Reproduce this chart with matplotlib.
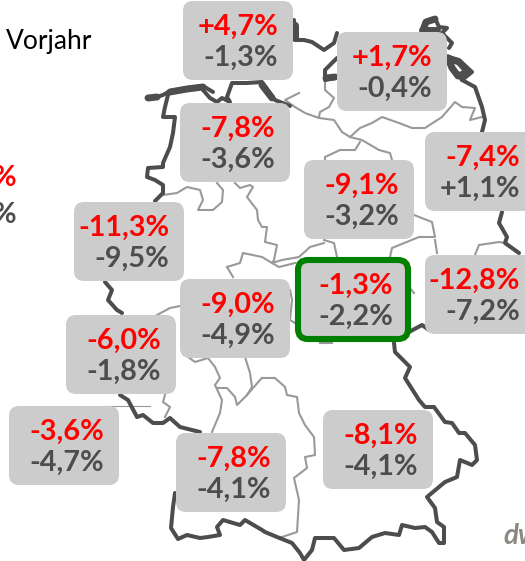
import matplotlib
matplotlib.use('Agg')
import matplotlib.pyplot as plt
from matplotlib.patches import FancyBboxPatch

plt.rcParams['font.family'] = ['Lato', 'DejaVu Sans']

RED = '#FF0000'
GREY = '#4D4D4D'

# werte pro gebiet
werte_rot = ['+4,7%', '+1,7%', '-7,8%', '-9,1%', '-7,4%', '-11,3%', '-9,0%',
             '-1,3%', '-12,8%', '-6,0%', '-3,6%', '-7,8%', '-8,1%']
werte_grau = ['-1,3%', '-0,4%', '-3,6%', '-3,2%', '+1,1%', '-9,5%', '-4,9%',
              '-2,2%', '-7,2%', '-1,8%', '-4,7%', '-4,1%', '-4,1%']
# linke obere ecke der kaesten in pixeln
kasten_x = [183, 337, 180, 304, 425, 74, 180, 298, 425, 66, 9, 176, 323]
kasten_y = [1, 32, 103, 160, 132, 202, 279, 260, 255, 315, 406, 433, 410]
markiert = 7

# aussengrenze, stueckweise (x, y in pixeln)
aussen = [
    [(148, 98), (157, 97), (163, 95), (170, 91), (187, 88), (203, 86), (208, 89), (213, 92)],
    [(168, 95), (165, 107), (163, 117), (175, 117), (173, 133), (170, 147), (163, 163), (163, 167),
     (148, 168), (147, 177), (155, 180), (163, 185), (163, 193), (155, 201)],
    [(203, 90), (210, 98), (217, 102), (222, 98), (230, 102), (227, 97), (232, 83), (247, 83), (262, 82),
     (275, 100), (290, 106)],
    [(294, 20), (295, 40), (304, 40), (312, 42), (324, 50), (334, 43), (337, 33)],
    [(337, 58), (325, 70), (325, 80), (335, 78)],
    [(422, 30), (425, 23), (435, 18), (439, 27), (447, 28), (442, 33), (452, 43), (449, 48)],
    [(447, 57), (459, 60), (472, 72), (462, 80), (475, 87), (482, 107), (485, 120), (482, 132)],
    [(447, 57), (455, 70), (462, 80)],
    [(502, 212), (499, 223), (507, 237), (505, 243), (519, 253)],
    [(409, 332), (422, 325), (429, 330)],
    [(394, 343), (395, 352), (410, 367), (405, 378), (419, 400), (425, 407), (434, 407), (445, 422),
     (452, 423), (459, 433), (465, 433), (475, 445), (477, 460), (472, 465), (460, 460), (457, 477),
     (445, 482), (427, 497), (435, 508), (437, 522), (444, 527), (444, 543), (439, 543), (432, 532),
     (425, 527), (415, 528), (402, 525), (399, 535), (385, 533), (372, 537), (359, 548), (344, 550),
     (334, 538), (315, 538), (312, 550), (304, 560), (300, 553), (292, 543), (277, 537), (265, 532),
     (262, 530), (245, 520), (240, 525), (223, 520), (217, 527), (220, 535), (208, 537), (200, 538),
     (187, 535), (178, 539), (171, 528), (173, 507), (175, 493)],
    [(120, 395), (128, 400), (137, 417), (143, 415), (153, 423), (163, 423), (170, 418), (180, 427),
     (200, 432)],
    [(105, 282), (112, 290), (108, 300), (117, 310), (122, 313)],
]

# dicke stellen an der kueste
kueste_dick = [
    [(148, 98), (157, 97)],
    [(170, 92), (187, 89), (203, 87)],
    [(423, 30), (426, 22), (435, 19)],
    [(422, 30), (437, 30)],
    [(448, 58), (459, 62), (468, 72), (458, 76), (452, 68), (448, 58)],
    [(326, 78), (335, 77)],
    [(295, 25), (295, 38)],
    [(262, 85), (272, 98)],
]

# laendergrenzen
innen = [
    [(163, 195), (177, 193), (187, 187), (200, 190), (203, 200), (198, 210), (213, 210), (222, 202),
     (223, 190), (217, 183)],
    [(235, 183), (240, 188), (250, 185), (253, 187), (247, 197), (257, 210), (258, 220), (262, 227),
     (267, 227), (265, 242), (277, 245), (274, 260), (272, 263), (279, 267), (295, 263)],
    [(227, 267), (240, 263), (243, 253), (262, 257), (272, 263)],
    [(233, 277), (227, 267)],
    [(325, 82), (325, 90), (334, 98), (329, 107), (320, 112), (319, 117)],
    [(299, 93), (285, 100), (295, 107), (305, 113), (319, 118), (334, 120), (342, 132), (350, 137),
     (362, 140), (379, 150), (390, 153), (392, 160)],
    [(360, 142), (355, 150), (340, 150), (325, 157), (325, 160)],
    [(350, 137), (360, 128), (372, 123), (382, 117), (399, 123), (412, 128), (425, 128), (442, 117),
     (455, 102), (462, 107), (475, 108), (470, 120), (482, 117)],
    [(414, 215), (432, 222), (435, 237), (419, 237), (392, 248), (390, 257)],
    [(435, 240), (437, 253)],
    [(475, 255), (479, 245), (499, 242), (505, 243)],
    [(324, 240), (334, 243), (337, 257)],
    [(324, 243), (310, 247), (299, 257), (282, 260), (272, 263)],
    [(157, 315), (170, 308), (180, 306)],
    [(188, 357), (195, 362), (208, 358), (215, 367), (220, 378), (215, 385), (222, 400), (220, 413),
     (212, 432)],
    [(165, 395), (163, 402), (170, 407), (165, 417)],
    [(245, 357), (250, 373), (252, 387), (247, 395), (237, 405), (235, 397), (227, 388), (218, 388)],
    [(262, 378), (275, 378), (285, 387), (287, 395), (297, 397), (299, 413), (305, 425), (314, 437),
     (315, 455), (305, 457), (307, 468), (294, 478), (299, 500), (297, 532), (282, 537), (275, 537)],
    [(247, 395), (260, 380), (262, 378)],
    [(290, 290), (292, 300), (290, 320), (295, 323)],
    [(320, 343), (332, 343)],
    [(409, 287), (414, 293)],
]

fig = plt.figure(figsize=(5.25, 5.61), dpi=100)
ax = fig.add_axes([0, 0, 1, 1])
ax.set_xlim(0, 525)
ax.set_ylim(561, 0)
ax.axis('off')

for stueck in aussen:
    ax.plot([p[0] for p in stueck], [p[1] for p in stueck], color=GREY, lw=2.9, zorder=2,
            solid_joinstyle='round', solid_capstyle='round')
for stueck in kueste_dick:
    ax.plot([p[0] for p in stueck], [p[1] for p in stueck], color=GREY, lw=5, zorder=2,
            solid_joinstyle='round', solid_capstyle='round')
for stueck in innen:
    ax.plot([p[0] for p in stueck], [p[1] for p in stueck], color='#999999', lw=1.5, zorder=1)
ax.plot([103, 150], [406, 406], color='#999999', lw=0.8, zorder=1)

for i in range(len(werte_rot)):
    x, y = kasten_x[i], kasten_y[i]
    b, h = 110, 79
    if i == markiert:
        ax.add_patch(FancyBboxPatch((x + 10, y + 10), b - 20, h - 20, boxstyle='round,pad=10,rounding_size=10',
                                    fc='#CCCCCC', ec='#008000', lw=4.4, zorder=3, clip_on=True))
    else:
        ax.add_patch(FancyBboxPatch((x + 10, y + 10), b - 20, h - 20, boxstyle='round,pad=10,rounding_size=10',
                                    fc='#CCCCCC', ec='none', zorder=3, clip_on=True))
    ax.text(x + 95, y + 26, werte_rot[i], color=RED, fontsize=20.8, fontweight='bold', ha='right',
            va='center', zorder=4)
    ax.text(x + 95, y + 57, werte_grau[i], color=GREY, fontsize=20.8, fontweight='bold', ha='right',
            va='center', zorder=4)

# legende links, vom bildrand abgeschnitten
ax.text(6, 41, 'Vorjahr', color='black', fontsize=19, va='center')
ax.text(16, 178, '%', color=RED, fontsize=20.8, fontweight='bold', ha='right', va='center')
ax.text(16, 215, '%', color=GREY, fontsize=20.8, fontweight='bold', ha='right', va='center')

# logo unten rechts
ax.text(503, 536, 'dw', color='#8C8780', fontsize=20, fontweight='bold', style='italic', va='center',
        clip_on=True)

fig.savefig('out.png', dpi=100)
